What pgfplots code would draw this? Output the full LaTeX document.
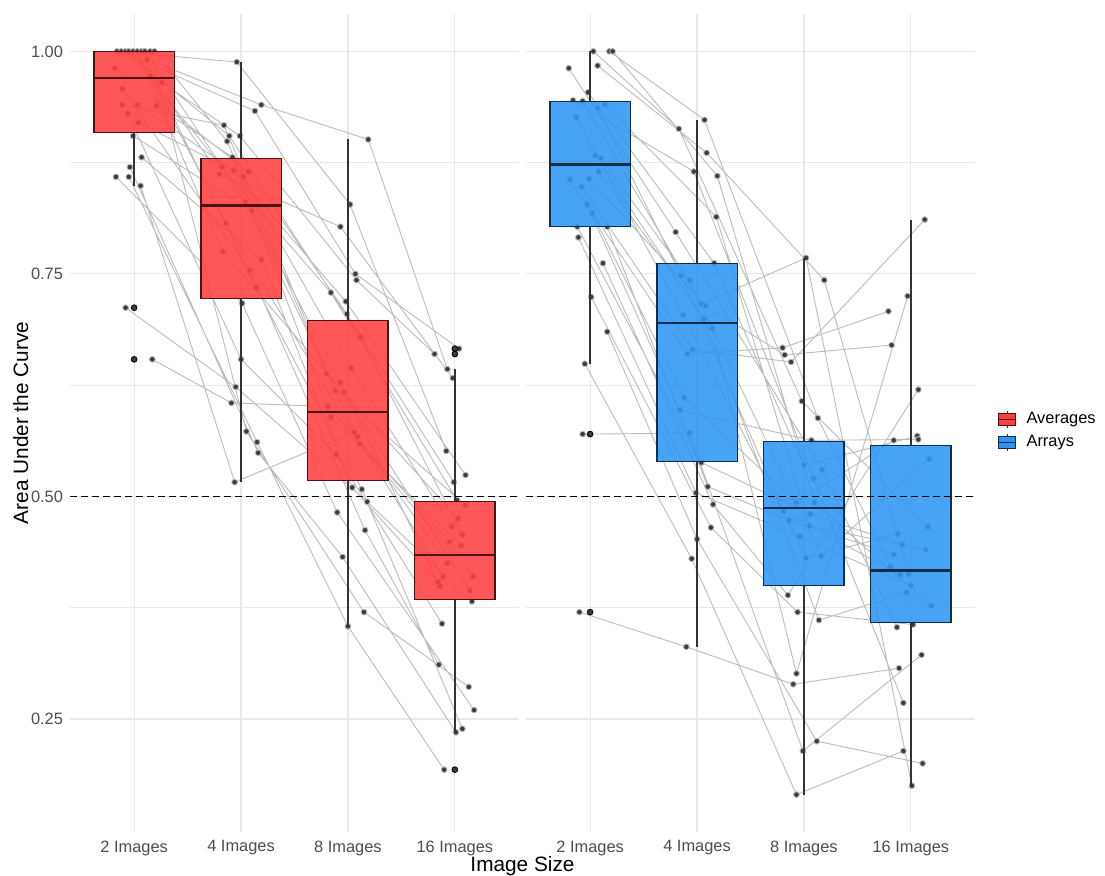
\documentclass[border=0pt]{standalone}
\usepackage{fontspec}
\setmainfont{Liberation Sans}
\usepackage{pgfplots}
\usepackage{pgfplotstable}
\pgfplotsset{compat=1.18}
\usepgfplotslibrary{statistics}

\definecolor{boxred}{RGB}{255,64,64}
\definecolor{boxblue}{RGB}{46,150,245}
\definecolor{gridcol}{RGB}{232,232,232}
\definecolor{linkcol}{RGB}{188,188,188}
\definecolor{ptcol}{RGB}{60,60,60}
\definecolor{tickcol}{RGB}{77,77,77}

% Per-participant AUC, jittered x position; "nan" rows separate participants
\pgfplotstableread{
x y
0.84 1.000
1.96 0.988
3.02 0.828
3.92 0.551
nan nan
0.88 1.000
2.13 0.933
3.07 0.750
4.04 0.666
nan nan
0.92 1.000
1.89 0.905
3.12 0.679
4.07 0.457
nan nan
0.95 1.000
1.82 0.870
2.84 0.729
4.02 0.496
nan nan
0.99 1.000
1.80 0.862
2.93 0.803
3.98 0.633
nan nan
1.03 1.000
1.83 0.775
2.96 0.617
4.14 0.394
nan nan
1.07 1.000
2.14 0.735
3.13 0.508
4.07 0.239
nan nan
1.10 1.000
2.04 0.831
3.09 0.567
3.93 0.425
nan nan
1.15 1.000
2.05 0.573
3.15 0.370
4.13 0.286
nan nan
1.19 1.000
1.87 0.899
2.80 0.638
4.03 0.475
nan nan
1.12 0.991
2.19 0.940
3.19 0.901
3.93 0.643
nan nan
0.82 0.981
2.07 0.865
2.99 0.705
3.99 0.516
nan nan
1.15 0.972
1.86 0.807
3.11 0.559
4.17 0.410
nan nan
1.26 0.965
1.99 0.905
3.08 0.743
3.81 0.660
nan nan
0.89 0.958
2.08 0.754
3.16 0.462
3.85 0.311
nan nan
0.89 0.940
1.84 0.917
2.88 0.619
4.10 0.490
nan nan
1.03 0.940
2.02 0.859
3.03 0.644
3.97 0.466
nan nan
1.21 0.939
1.92 0.881
2.84 0.589
4.06 0.445
nan nan
0.94 0.930
2.00 0.654
2.89 0.547
3.88 0.357
nan nan
1.04 0.920
1.93 0.866
2.98 0.719
4.10 0.524
nan nan
0.99 0.905
2.10 0.821
2.93 0.628
3.86 0.399
nan nan
1.07 0.881
2.19 0.766
3.04 0.510
3.84 0.404
nan nan
0.96 0.870
2.16 0.549
2.95 0.432
4.01 0.235
nan nan
0.83 0.859
2.01 0.717
2.90 0.482
4.18 0.260
nan nan
0.95 0.859
2.15 0.561
3.00 0.354
3.90 0.193
nan nan
1.06 0.849
1.94 0.516
3.06 0.572
3.89 0.410
nan nan
0.92 0.712
1.95 0.623
3.18 0.494
4.16 0.382
nan nan
1.17 0.654
1.91 0.605
2.81 0.601
3.95 0.449
}\averages

\pgfplotstableread{
x y
1.03 1.000
1.83 0.913
2.98 0.607
4.16 0.466
nan nan
1.18 1.000
2.07 0.923
3.13 0.588
3.81 0.421
nan nan
1.21 1.000
2.19 0.860
3.10 0.493
4.19 0.377
nan nan
1.07 0.984
2.09 0.886
3.19 0.743
3.98 0.413
nan nan
0.80 0.981
1.80 0.797
3.17 0.530
3.87 0.353
nan nan
0.98 0.954
2.16 0.762
3.00 0.535
4.06 0.568
nan nan
0.84 0.945
1.97 0.865
3.09 0.520
3.93 0.268
nan nan
0.93 0.944
2.04 0.716
3.02 0.768
4.01 0.175
nan nan
1.14 0.940
2.18 0.814
3.05 0.467
4.14 0.440
nan nan
1.07 0.936
1.85 0.748
2.81 0.483
3.90 0.412
nan nan
0.87 0.926
1.87 0.704
3.02 0.431
3.88 0.458
nan nan
1.05 0.883
2.06 0.699
3.14 0.361
3.96 0.392
nan nan
1.10 0.880
1.93 0.743
3.16 0.433
4.17 0.542
nan nan
1.08 0.865
2.14 0.689
2.93 0.301
3.97 0.725
nan nan
0.99 0.857
2.08 0.714
2.82 0.659
3.82 0.670
nan nan
0.81 0.856
1.91 0.660
2.80 0.667
3.79 0.708
nan nan
0.92 0.848
1.96 0.665
2.88 0.651
4.13 0.811
nan nan
0.97 0.828
1.84 0.597
3.07 0.563
4.07 0.564
nan nan
1.02 0.818
1.88 0.611
2.93 0.493
3.84 0.563
nan nan
0.88 0.803
2.04 0.538
3.06 0.480
3.92 0.446
nan nan
1.16 0.803
2.10 0.511
2.86 0.473
3.84 0.435
nan nan
0.89 0.791
1.99 0.504
2.96 0.455
4.00 0.400
nan nan
1.12 0.762
2.15 0.491
2.85 0.389
4.07 0.620
nan nan
1.01 0.724
2.13 0.465
2.94 0.370
4.02 0.356
nan nan
1.16 0.685
2.00 0.452
3.12 0.225
4.11 0.200
nan nan
0.95 0.649
1.95 0.430
2.93 0.165
3.93 0.214
nan nan
0.93 0.570
1.93 0.571
2.99 0.214
4.10 0.322
nan nan
0.90 0.370
1.90 0.331
2.90 0.289
3.89 0.307
}\arrays

\pgfplotsset{
  facet/.style={
    scale only axis, width=224.5pt, height=409pt,
    anchor=south west,
    xmin=0.4, xmax=4.6, ymin=0.123, ymax=1.042,
    clip marker paths=true,
    axis line style={draw=none},
    major tick length=0pt, minor tick length=0pt,
    xtick={1,2,3,4},
    xticklabels={2 Images,4 Images,8 Images,16 Images},
    ytick={0.25,0.5,0.75,1},
    minor ytick={0.375,0.625,0.875},
    grid=both,
    major grid style={draw=gridcol, line width=0.6pt},
    minor grid style={draw=gridcol, line width=0.3pt},
    tick label style={font=\fontsize{8.2}{9.8}\selectfont, text=tickcol},
    xticklabel style={yshift=-0.8pt},
    /pgf/number format/fixed,
    /pgf/number format/fixed zerofill,
    /pgf/number format/precision=2,
    /pgf/number format/assume math mode=true,
  },
  subject/.style={
    forget plot, color=linkcol, line width=0.45pt,
    mark=*, mark size=1.45pt, mark options={draw=none, fill=ptcol},
    unbounded coords=jump,
  },
  outlier/.style={
    forget plot, only marks, mark=*, mark size=1.45pt,
    mark options={draw=none, fill=ptcol},
  },
  halfline/.style={
    forget plot, black, line width=0.55pt, dash pattern=on 3.3pt off 2.2pt,
  },
}

% \facetbox{position}{lower whisker}{Q1}{median}{Q3}{upper whisker}{colour}
\newcommand{\facetbox}[7]{%
  \addplot[forget plot,
    boxplot prepared={draw direction=y, draw position=#1, lower whisker=#2,
      lower quartile=#3, median=#4, upper quartile=#5, upper whisker=#6,
      box extend=0.75, whisker extend=0,
      every whisker/.style={draw=black!80, line width=0.65pt},
      every median/.style={line width=1.3pt}},
    draw=#7!30!black, fill=#7, fill opacity=0.88, line width=0.6pt]
    coordinates {};%
}

\begin{document}
\begin{tikzpicture}
\path[use as bounding box] (0,0) rectangle (552.5pt,438pt);

% Averages
\begin{axis}[facet, at={(35pt,22pt)}]
  \addplot[subject] table[x=x, y=y] {\averages};
  \facetbox{1}{0.849}{0.909}{0.970}{1.000}{1.000}{boxred}
  \facetbox{2}{0.516}{0.722}{0.827}{0.880}{0.988}{boxred}
  \facetbox{3}{0.354}{0.518}{0.595}{0.698}{0.901}{boxred}
  \facetbox{4}{0.235}{0.384}{0.434}{0.494}{0.643}{boxred}
  \addplot[outlier] coordinates {(1,0.712) (1,0.654) (4,0.666) (4,0.660) (4,0.193)};
  \addplot[halfline] coordinates {(0.4,0.5) (4.6,0.5)};
\end{axis}

% Arrays
\begin{axis}[facet, at={(263pt,22pt)}, yticklabels={},
  legend style={at={(1,0.5)}, anchor=west, xshift=11.3pt, yshift=-4pt,
    draw=none, fill=none, inner sep=0pt, row sep=1.5pt, column sep=3.5pt,
    font=\fontsize{8.2}{9.8}\selectfont,
    nodes={inner sep=1.5pt, text=black}},
  legend cell align=left]
  \addplot[subject] table[x=x, y=y] {\arrays};
  \facetbox{1}{0.649}{0.803}{0.873}{0.944}{1.000}{boxblue}
  \facetbox{2}{0.331}{0.539}{0.695}{0.762}{0.923}{boxblue}
  \facetbox{3}{0.165}{0.400}{0.487}{0.562}{0.768}{boxblue}
  \facetbox{4}{0.175}{0.358}{0.417}{0.557}{0.811}{boxblue}
  \addplot[outlier] coordinates {(1,0.570) (1,0.370)};
  \addplot[halfline] coordinates {(0.4,0.5) (4.6,0.5)};

  \addlegendimage{legend image code/.code={
    \draw[black!80, line width=0.5pt] (4.25pt,-4.3pt) -- (4.25pt,4.3pt);
    \filldraw[fill=boxred, draw=boxred!30!black, line width=0.5pt]
      (0pt,-3pt) rectangle (8.5pt,3pt);
    \draw[boxred!30!black, line width=0.8pt] (0pt,0pt) -- (8.5pt,0pt);}}
  \addlegendentry{Averages}
  \addlegendimage{legend image code/.code={
    \draw[black!80, line width=0.5pt] (4.25pt,-4.3pt) -- (4.25pt,4.3pt);
    \filldraw[fill=boxblue, draw=boxblue!30!black, line width=0.5pt]
      (0pt,-3pt) rectangle (8.5pt,3pt);
    \draw[boxblue!30!black, line width=0.8pt] (0pt,0pt) -- (8.5pt,0pt);}}
  \addlegendentry{Arrays}
\end{axis}

\node[anchor=base, font=\fontsize{10.4}{12.5}\selectfont] at (261.25pt,2.15pt) {Image Size};
\node[anchor=base, rotate=90, font=\fontsize{10.4}{12.5}\selectfont] at (14pt,226.5pt) {Area Under the Curve};
\end{tikzpicture}
\end{document}
